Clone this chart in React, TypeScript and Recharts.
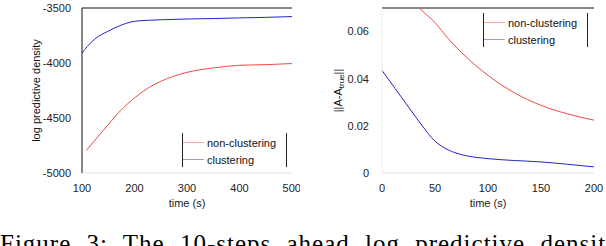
import React from 'react';
import { LineChart, Line, XAxis, YAxis, ReferenceLine, Label } from 'recharts';

const densityTime = [100, 110, 125, 150, 175, 200, 225, 250, 300, 350, 400, 450, 500];
const densityClustering = [-3909, -3850, -3780, -3710, -3655, -3621, -3612, -3607, -3600, -3596, -3590, -3585, -3578];
const densityTimeNon = [108, 125, 150, 175, 200, 225, 250, 300, 350, 400, 450, 500];
const densityNonClustering = [-4795, -4700, -4560, -4425, -4318, -4230, -4167, -4085, -4045, -4021, -4015, -4005];

const errTime = [0, 12.5, 25, 37.5, 50, 62.5, 75, 100, 125, 150, 175, 200];
const errClustering = [0.0435, 0.0358, 0.028, 0.0203, 0.0135, 0.0098, 0.0078, 0.0061, 0.0053, 0.0047, 0.0037, 0.0026];
const errTimeNon = [30, 37.5, 50, 62.5, 75, 100, 125, 150, 175, 200];
const errNonClustering = [0.0725, 0.069, 0.0638, 0.057, 0.0511, 0.0414, 0.034, 0.0287, 0.0251, 0.0224];

const leftXTicks = [100, 200, 300, 400, 500];
const leftYTicks = [-5000, -4500, -4000, -3500];
const rightXTicks = [0, 50, 100, 150, 200];
const rightYTicks = [0, 0.02, 0.04, 0.06];

const seriesNames = ['non-clustering', 'clustering'];
const caption = 'Figure 3: The 10-steps ahead log predictive density';

const RED = '#f04848';
const BLUE = '#2424c8';
const FONT = '"Liberation Sans", Arial, sans-serif';

const zip = (xs: number[], ys: number[]) => xs.map((t, i) => ({ t, v: ys[i] }));

const tickStyle = { fill: '#222', fontSize: 11, fontFamily: FONT };

function LegendBox({ left, top }: { left: number; top: number }) {
  const colors = [RED, BLUE];
  return (
    <div
      style={{
        position: 'absolute',
        left,
        top,
        width: 105,
        height: 34,
        borderLeft: '1px solid #222',
        borderRight: '1px solid #222',
        boxSizing: 'border-box',
        fontFamily: FONT,
        fontSize: 11,
        color: '#111',
        paddingTop: 1,
      }}
    >
      {seriesNames.map((name, i) => (
        <div key={name} style={{ display: 'flex', alignItems: 'center', height: 17 }}>
          <span style={{ width: 21, height: 1, background: colors[i], opacity: 0.45, marginRight: 3 }} />
          <span style={{ lineHeight: '14px' }}>{name}</span>
        </div>
      ))}
    </div>
  );
}

function ErrLabel({ viewBox }: any) {
  const cx = 38;
  const cy = viewBox ? viewBox.y + viewBox.height / 2 : 90;
  return (
    <text
      transform={`rotate(-90, ${cx}, ${cy})`}
      x={cx}
      y={cy}
      textAnchor="middle"
      dominantBaseline="central"
      fontFamily={FONT}
      fontSize={11}
      fill="#111"
    >
      ||A-A
      <tspan fontSize={8} dy={3}>true</tspan>
      <tspan dy={-3}>||</tspan>
    </text>
  );
}

export default function App() {
  return (
    <div style={{ position: 'absolute', left: 0, top: 0, width: 606, height: 246, overflow: 'hidden', background: '#fff' }}>
      <div style={{ position: 'absolute', left: 0, top: 0 }}>
        <LineChart width={300} height={210} margin={{ top: 8, right: 8, left: 0, bottom: 0 }}>
          <XAxis
            dataKey="t"
            type="number"
            domain={[100, 500]}
            ticks={leftXTicks}
            tick={tickStyle}
            tickLine={false}
            axisLine={{ stroke: '#e4e4e4' }}
            tickMargin={5}
            height={37}
            allowDuplicatedCategory={false}
          >
            <Label value="time (s)" position="insideBottom" offset={3} style={{ fill: '#222', fontSize: 11, fontFamily: FONT }} />
          </XAxis>
          <YAxis
            type="number"
            domain={[-5000, -3500]}
            ticks={leftYTicks}
            tick={tickStyle}
            tickLine={false}
            axisLine={{ stroke: '#111' }}
            tickMargin={5}
            width={82}
          >
            <Label
              value="log predictive density"
              angle={-90}
              position="insideLeft"
              offset={36}
              style={{ textAnchor: 'middle', fill: '#111', fontSize: 11, fontFamily: FONT }}
            />
          </YAxis>
          <ReferenceLine y={-3500} stroke="#111" />
          <Line type="monotone" data={zip(densityTimeNon, densityNonClustering)} dataKey="v" name={seriesNames[0]} stroke={RED} strokeWidth={1} dot={false} isAnimationActive={false} />
          <Line type="monotone" data={zip(densityTime, densityClustering)} dataKey="v" name={seriesNames[1]} stroke={BLUE} strokeWidth={1} dot={false} isAnimationActive={false} />
        </LineChart>
      </div>
      <LegendBox left={182} top={133} />
      <div style={{ position: 'absolute', left: 300, top: 0 }}>
        <LineChart width={306} height={210} margin={{ top: 8, right: 12, left: 0, bottom: 0 }}>
          <XAxis
            dataKey="t"
            type="number"
            domain={[0, 200]}
            ticks={rightXTicks}
            tick={tickStyle}
            tickLine={false}
            axisLine={{ stroke: '#e4e4e4' }}
            tickMargin={5}
            height={37}
            allowDuplicatedCategory={false}
          >
            <Label value="time (s)" position="insideBottom" offset={3} style={{ fill: '#222', fontSize: 11, fontFamily: FONT }} />
          </XAxis>
          <YAxis
            type="number"
            domain={[0, 0.07]}
            allowDataOverflow
            ticks={rightYTicks}
            tick={tickStyle}
            tickFormatter={(v: number) => (v === 0 ? '0' : v.toFixed(2))}
            tickLine={false}
            axisLine={{ stroke: '#eeeeee' }}
            tickMargin={7}
            width={82}
          >
            <Label content={<ErrLabel />} />
          </YAxis>
          <ReferenceLine y={0.07} stroke="#111" />
          <Line type="monotone" data={zip(errTimeNon, errNonClustering)} dataKey="v" name={seriesNames[0]} stroke={RED} strokeWidth={1} dot={false} isAnimationActive={false} />
          <Line type="monotone" data={zip(errTime, errClustering)} dataKey="v" name={seriesNames[1]} stroke={BLUE} strokeWidth={1} dot={false} isAnimationActive={false} />
        </LineChart>
      </div>
      <LegendBox left={483} top={13} />
      <div
        style={{
          position: 'absolute',
          left: 0,
          top: 230,
          whiteSpace: 'nowrap',
          fontFamily: '"Liberation Serif", serif',
          fontSize: 25,
          wordSpacing: 8,
          letterSpacing: 1,
          color: '#000',
        }}
      >
        {caption}
      </div>
    </div>
  );
}
